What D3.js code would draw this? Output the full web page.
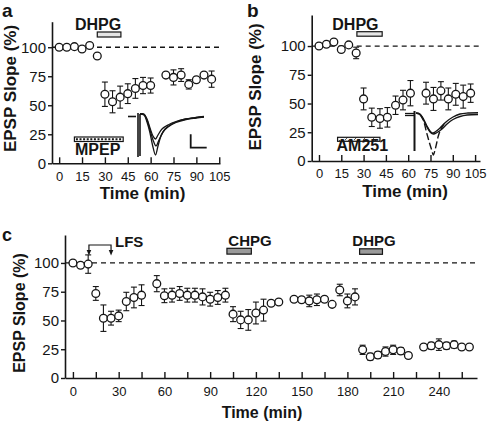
<!DOCTYPE html>
<html><head><meta charset="utf-8">
<script src="https://cdn.jsdelivr.net/npm/d3@7"></script>
<style>
html,body{margin:0;padding:0;background:#fff;}
svg{display:block;}
</style></head><body>
<svg id="chart" width="493" height="422"></svg>
<script>
// ---------------- DATA ----------------
// Panel a (MPEP)
const aTime  = [0,5,10,15,20,25, 30,35,40,45,50,55,60, 70,75,80,85,90,95,100];
const aValue = [100,100,100.5,98.5,101.5,92.5, 59.5,53,57,60,64.5,67,67, 76,74,76,68,72,76,72.5];
const aError = [0.5,0.5,0.5,1,1,2, 10.5,9.5,9.5,8.5,8.5,7,6.5, 2,6.5,5.5,4,2,2,7];
const aDHPG = [25, 40.5];
const aMPEP = [10, 42];

// Panel b (AM251)
const bTime  = [0,5,10,15,20,25, 30,35.5,41,46,51.5,56.5,61.5, 72,77,82,87,92,97,102];
const bValue = [100,101.5,103.5,97,101,94, 54,38,37,38,48.5,53,59, 59,54,61,54,58,56,59];
const bError = [0.5,1,1,1.5,1,5, 9.5,8,8.5,8.5,8,8.5,11, 9.5,10,8,9.5,9.5,10,8];
const bDHPG = [25.5, 42.5];
const bAM251 = [12.5, 41];

// Panel c (LFS, CHPG, DHPG)
const cTime  = [0,5,10, 15,20,25,30,35,40,45, 55,60,65,70,75,80,85,90,95,100,
                105,110,115,120,125,130,135, 145,150,155,160,165,170,175,180,185,
                190,195,200,205,210,215,220, 230,235,240,245,250,255,260];
const cValue = [100,98,99, 73.5,52,52,54,66.5,70,72, 82,71.5,72,73.5,72,72,70.5,68.5,70,72,
                55.5,50.5,50.5,56.5,59,65,66, 68.5,68,67,68,68.5,64,76.5,67,70.5,
                24.5,18.5,20,23,24.5,23.5,19.5, 27,28,29,28,29,27,27];
const cError = [0.5,1,8, 6,11.5,6,5,8,9,9, 7,6,6,6,6,6,7,6,6,6,
                6.5,7.5,9,9.5,9.5,2,2, 2,2,5,5,2,2,5,6,7,
                4,3,3,4,4,3,2, 2,3,5,3,3,2,2];
const cLFS  = [10.5, 25];
const cCHPG = [101, 117];
const cDHPG = [188, 203];

// tick labels
const abXTicks = [0,15,30,45,60,75,90,105];
const cXTicks  = [0,15,30,45,60,75,90,105,120,135,150,165,180,195,210,225,240,255];
const yTicks   = [0,25,50,75,100];
const refLevel = 100;

// inset traces (trace units)
const aInsetBase = [[0,3.5],[8,3.5]];
const aInsetSpike = [[[10,0],[10,44]],[[12,1],[12,43]]];
const aTrace1 = [[12,1],[16,1],[19,6],[22,15],[25,23],[27.5,26],[30,22],[34,16],[40,12],[48,8.5],[58,6],[68,4.5],[76,3.5]];
const aTrace2 = [[12,1],[16,2],[19,9],[22,20],[24.5,32],[27.5,42],[30,33],[33,23],[37,16],[43,11.5],[52,7.5],[64,5],[76,3.8]];
const aTrace3 = [[12,1],[16,1.5],[19,7],[22,17],[25,27],[28,33],[31,27],[35,19],[40,14],[48,9.5],[58,6.5],[68,5],[76,4]];
const aScaleBar = [[62.7,21.3],[62.7,34.7],[78.7,34.7]];

const bInsetBase = [[[5,3.5],[14,3.5]],[[5,5.5],[14,5.5]]];
const bInsetSpike = [[14.5,1],[14.5,41]];
const bTrace1 = [[16,3],[20,4.5],[23,9],[26.5,16],[30.5,22.5],[33.5,24],[37,22.5],[42,19],[47,14],[53,9.5],[60,6.5],[67,5],[78,4.5]];
const bTrace2 = [[16,3],[20,4],[24,10],[28,18],[32,23],[35,22],[40,18],[46,12],[53,7],[60,4],[68,3],[78,2.7]];
const bTrace3 = [[20,4.5],[23.3,10],[26.7,23],[29.5,33],[31.7,40],[33.3,45],[35,40],[36.7,33],[38.3,26],[40.5,20],[44,14]];

// ---------------- DRAW ----------------
const FONT = '"Liberation Sans", Arial, Helvetica, sans-serif';
const INK = "#151515";
const svg = d3.select("#chart").style("font-family", FONT);

function panel(cfg) {
  const {x, y, xTicks, xFmt, pad} = cfg;
  const g = svg.append("g");
  g.append("line")
    .attr("x1", x.range()[0]).attr("x2", x.range()[1])
    .attr("y1", y(refLevel)).attr("y2", y(refLevel))
    .attr("stroke", INK).attr("stroke-width", 1.3).attr("stroke-dasharray", "5,4");
  const ya = g.append("g").attr("transform", `translate(${x.range()[0]},0)`)
    .call(d3.axisLeft(y).tickValues(yTicks).tickSize(4).tickPadding(2).tickSizeOuter(0));
  const xa = g.append("g").attr("transform", `translate(0,${y.range()[0]})`)
    .call(d3.axisBottom(x).tickValues(xTicks).tickFormat(xFmt).tickSizeInner(-6).tickSizeOuter(0).tickPadding(pad));
  [ya, xa].forEach(a => {
    a.attr("font-family", FONT);
    a.select(".domain").attr("stroke", INK).attr("stroke-width", 1.6);
    a.selectAll(".tick line").attr("stroke", INK).attr("stroke-width", 1.4);
    a.selectAll(".tick text").attr("fill", INK);
  });
  ya.attr("font-size", 15);
  xa.attr("font-size", 13);
  return g;
}

function points(g, x, y, time, value, error) {
  const eb = g.append("g").attr("stroke", INK).attr("stroke-width", 1.1);
  time.forEach((t, i) => {
    const cx = x(t), y1 = y(value[i] - error[i]), y2 = y(value[i] + error[i]);
    eb.append("line").attr("x1", cx).attr("x2", cx).attr("y1", y1).attr("y2", y2);
    eb.append("line").attr("x1", cx - 3).attr("x2", cx + 3).attr("y1", y1).attr("y2", y1);
    eb.append("line").attr("x1", cx - 3).attr("x2", cx + 3).attr("y1", y2).attr("y2", y2);
  });
  g.append("g").selectAll("circle").data(time).join("circle")
    .attr("cx", d => x(d)).attr("cy", (d, i) => y(value[i])).attr("r", 3.9)
    .attr("fill", "#fff").attr("stroke", INK).attr("stroke-width", 1.3);
}

function text(str, px, py, size, anchor, rotate) {
  const t = svg.append("text").text(str).attr("font-size", size).attr("font-weight", "bold")
    .attr("fill", INK).attr("text-anchor", anchor || "start");
  if (rotate) t.attr("transform", `translate(${px},${py}) rotate(-90)`);
  else t.attr("x", px).attr("y", py);
  return t;
}

const defs = svg.append("defs");
const hatch = defs.append("pattern").attr("id", "hatch").attr("patternUnits", "userSpaceOnUse")
  .attr("width", 9).attr("height", 4);
hatch.append("rect").attr("width", 9).attr("height", 4).attr("fill", "#f6f6f6");
hatch.append("line").attr("x1", 3).attr("y1", 4).attr("x2", 7).attr("y2", 0).attr("stroke", "#444").attr("stroke-width", 0.9);

function drugBar(x, span, ytop, h, fill) {
  svg.append("rect").attr("x", x(span[0])).attr("y", ytop).attr("width", x(span[1]) - x(span[0]))
    .attr("height", h).attr("fill", fill).attr("stroke", INK).attr("stroke-width", 1.2);
}

// ---------- Panel a ----------
const xA = d3.scaleLinear().domain([-4.7, 105.5]).range([52, 220]);
const yA = d3.scaleLinear().domain([0, 122]).range([163.3, 21.7]);
const gA = panel({x: xA, y: yA, xTicks: abXTicks, xFmt: d3.format("d"), pad: 8});

const ixA = d3.scaleLinear().domain([0, 78]).range([128, 206]);
const iyA = d3.scaleLinear().domain([0, 44]).range([113, 157]);
const lineA = d3.line().x(d => ixA(d[0])).y(d => iyA(d[1]));
const curveA = d3.line().x(d => ixA(d[0])).y(d => iyA(d[1])).curve(d3.curveCatmullRom);
const insA = svg.append("g").attr("fill", "none").attr("stroke", INK);
insA.append("path").attr("d", lineA(aInsetBase)).attr("stroke-width", 1.6);
aInsetSpike.forEach(s => insA.append("path").attr("d", lineA(s)).attr("stroke-width", 1.6));
[aTrace1, aTrace3, aTrace2].forEach(tr => insA.append("path").attr("d", curveA(tr)).attr("stroke-width", 1.3));
insA.append("path").attr("d", lineA(aScaleBar)).attr("stroke-width", 1.8);

points(gA, xA, yA, aTime, aValue, aError);
drugBar(xA, aDHPG, 32, 5, "#e6e6e6");
drugBar(xA, aMPEP, 137, 4.5, "#fff");
svg.append("line").attr("x1", xA(aMPEP[0]) + 1.5).attr("x2", xA(aMPEP[1]) - 1)
  .attr("y1", 139.25).attr("y2", 139.25).attr("stroke", INK).attr("stroke-width", 2.2).attr("stroke-dasharray", "2,1.6");
text("DHPG", 75, 30, 16);
text("MPEP", 75, 154.5, 16);
text("EPSP Slope (%)", 15.5, 88.5, 17, "middle", true);
text("Time (min)", 142.5, 199, 17, "middle");
text("a", 2, 16.5, 19);

// ---------- Panel b ----------
const xB = d3.scaleLinear().domain([-4.9, 108.3]).range([311.7, 480]);
const yB = d3.scaleLinear().domain([0, 127]).range([161, 15]);
const gB = panel({x: xB, y: yB, xTicks: abXTicks, xFmt: d3.format("d"), pad: 8});

const ixB = d3.scaleLinear().domain([0, 80]).range([400, 480]);
const iyB = d3.scaleLinear().domain([0, 50]).range([110, 160]);
const lineB = d3.line().x(d => ixB(d[0])).y(d => iyB(d[1]));
const curveB = d3.line().x(d => ixB(d[0])).y(d => iyB(d[1])).curve(d3.curveCatmullRom);
const insB = svg.append("g").attr("fill", "none").attr("stroke", INK);
bInsetBase.forEach(s => insB.append("path").attr("d", lineB(s)).attr("stroke-width", 1.3));
insB.append("path").attr("d", lineB(bInsetSpike)).attr("stroke-width", 2);
[bTrace1, bTrace2].forEach(tr => insB.append("path").attr("d", curveB(tr)).attr("stroke-width", 1.4));
insB.append("path").attr("d", curveB(bTrace3)).attr("stroke-width", 1.4).attr("stroke-dasharray", "7,3");

points(gB, xB, yB, bTime, bValue, bError);
drugBar(xB, bDHPG, 31.7, 4.5, "#e6e6e6");
drugBar(xB, bAM251, 137.3, 4, "url(#hatch)");
text("DHPG", 332.3, 30, 16);
text("AM251", 336.5, 150.5, 16);
text("EPSP Slope (%)", 261, 87, 17, "middle", true);
text("Time (min)", 405, 196.5, 17, "middle");
text("b", 247, 16.7, 19);

// ---------- Panel c ----------
const xC = d3.scaleLinear().domain([-5.2, 265]).range([65, 477]);
const yC = d3.scaleLinear().domain([0, 124.3]).range([378, 235]);
const gC = panel({x: xC, y: yC, xTicks: cXTicks, xFmt: d => (d % 30 === 0 ? d : ""), pad: 9});

const lfs = svg.append("g").attr("stroke", INK).attr("fill", "none").attr("stroke-width", 1.2);
lfs.append("path").attr("d", `M${xC(cLFS[0])},251V245H${xC(cLFS[1])}V251`);
cLFS.forEach(t => {
  svg.append("path").attr("d", `M${xC(t) - 2.3},250L${xC(t) + 2.3},250L${xC(t)},255.5Z`).attr("fill", INK);
});
points(gC, xC, yC, cTime, cValue, cError);
drugBar(xC, cCHPG, 248.3, 5.8, "#9a9a9a");
drugBar(xC, cDHPG, 248.8, 5.5, "#9a9a9a");
text("LFS", 115, 246.5, 15);
text("CHPG", 228.3, 245.5, 15);
text("DHPG", 352.3, 246, 15);
text("EPSP Slope (%)", 25, 313, 16, "middle", true);
text("Time (min)", 262, 418, 16, "middle");
text("c", 2, 241, 18);
</script>
</body></html>
